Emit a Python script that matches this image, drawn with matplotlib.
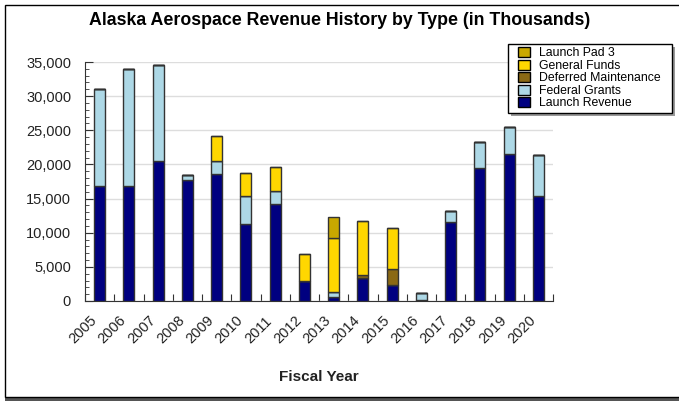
import numpy as np
import matplotlib.pyplot as plt
from matplotlib.patches import Patch, Rectangle

plt.rcParams['font.family'] = ['Liberation Sans', 'DejaVu Sans']

# revenue by fiscal year, in thousands
years = ['2005', '2006', '2007', '2008', '2009', '2010', '2011', '2012',
         '2013', '2014', '2015', '2016', '2017', '2018', '2019', '2020']
launch_revenue = [16870, 16870, 20460, 17690, 18660, 11320, 14190, 2920,
                  580, 3350, 2280, 100, 11620, 19490, 21480, 15360]
federal_grants = [14230, 17100, 14140, 780, 1900, 3990, 1950, 0,
                  730, 0, 0, 1020, 1500, 3790, 3940, 6070]
deferred_maint = [0, 0, 0, 0, 0, 0, 0, 0,
                  0, 390, 2390, 0, 0, 0, 0, 0]
general_funds = [0, 0, 0, 0, 3550, 3500, 3490, 4030,
                 7970, 8020, 6070, 0, 0, 0, 0, 0]
launch_pad_3 = [0, 0, 0, 0, 0, 0, 0, 0,
                3020, 0, 0, 0, 0, 0, 0, 0]

series = [
    ('Launch Revenue', launch_revenue, '#000080'),
    ('Federal Grants', federal_grants, '#add8e6'),
    ('Deferred Maintenance', deferred_maint, '#8b6914'),
    ('General Funds', general_funds, '#ffd700'),
    ('Launch Pad 3', launch_pad_3, '#c9a800'),
]

W, H = 679, 401
fig = plt.figure(figsize=(W / 100, H / 100), dpi=100)

# outer frame with a dark shadow along the bottom
fig.patches.append(Rectangle((5 / W, 0.0), 1.0, 3 / H, transform=fig.transFigure,
                             facecolor='#555555', edgecolor='none', zorder=0))
fig.patches.append(Rectangle((5 / W, 4 / H), 1.0, 392 / H, transform=fig.transFigure,
                             facecolor='white', edgecolor='black', linewidth=1, zorder=1))

ax = fig.add_axes([85 / W, 100 / H, 468 / W, 239 / H])
ax.set_zorder(2)
ax.patch.set_alpha(0)

x = np.arange(len(years))
bottom = np.zeros(len(years))
handles = []
for name, vals, color in series:
    vals = np.array(vals, dtype=float)
    ax.bar(x, vals, 0.38, bottom=bottom, color=color, edgecolor='#333333',
           linewidth=1, zorder=3)
    bottom += vals
    handles.append(Patch(facecolor=color, edgecolor='black', linewidth=1, label=name))

ax.set_xlim(-0.5, len(years) - 0.5)
ax.set_ylim(0, 35000)
ax.set_yticks(np.arange(0, 35001, 5000))
ax.set_yticks(np.arange(0, 35001, 1000), minor=True)
ax.set_yticklabels([f'{v:,}' for v in range(0, 35001, 5000)])
ax.grid(axis='y', color='#dddddd', linewidth=1, zorder=0)

# ticks at the category boundaries, labels under the bars
ax.set_xticks(np.arange(-0.5, len(years), 1.0))
ax.set_xticklabels([])
ax.set_xticks(x, minor=True)
ax.set_xticklabels(years, minor=True, rotation=45, ha='right', va='top')
ax.tick_params(axis='x', which='minor', length=0, pad=9, labelsize=10.5, labelcolor='#222222')
ax.tick_params(axis='x', which='major', direction='in', length=5, color='#333333')
ax.tick_params(axis='y', which='major', direction='in', length=6, color='#333333',
               labelsize=10.5, labelcolor='#222222', pad=10)
ax.tick_params(axis='y', which='minor', direction='in', length=3, color='#333333')

for side in ['top', 'right']:
    ax.spines[side].set_visible(False)
for side in ['left', 'bottom']:
    ax.spines[side].set_color('#333333')

fig.suptitle('Alaska Aerospace Revenue History by Type (in Thousands)',
             x=0.5, y=1 - 12 / H, va='top', fontsize=12.8, fontweight='bold')
fig.text(319 / W, 1 - 377 / H, 'Fiscal Year', ha='center', va='center',
         fontsize=11, fontweight='bold', color='#222222')

# legend box drawn by hand so the padding matches, entries from fig.legend
fig.patches.append(Rectangle((511 / W, 1 - 116 / H), 164 / W, 69 / H, transform=fig.transFigure,
                             facecolor='#999999', edgecolor='none', zorder=4))
fig.patches.append(Rectangle((508 / W, 1 - 113 / H), 164 / W, 69 / H, transform=fig.transFigure,
                             facecolor='white', edgecolor='black', linewidth=1, zorder=4))
leg = fig.legend(handles=handles[::-1], loc='upper left',
                 bbox_to_anchor=(518 / W, 1 - 47 / H), borderaxespad=0, borderpad=0,
                 fontsize=8.8, frameon=False, handlelength=0.95,
                 handleheight=0.9, handletextpad=0.75, labelspacing=0.02)
leg.set_zorder(5)

fig.savefig('out.png', dpi=100)
